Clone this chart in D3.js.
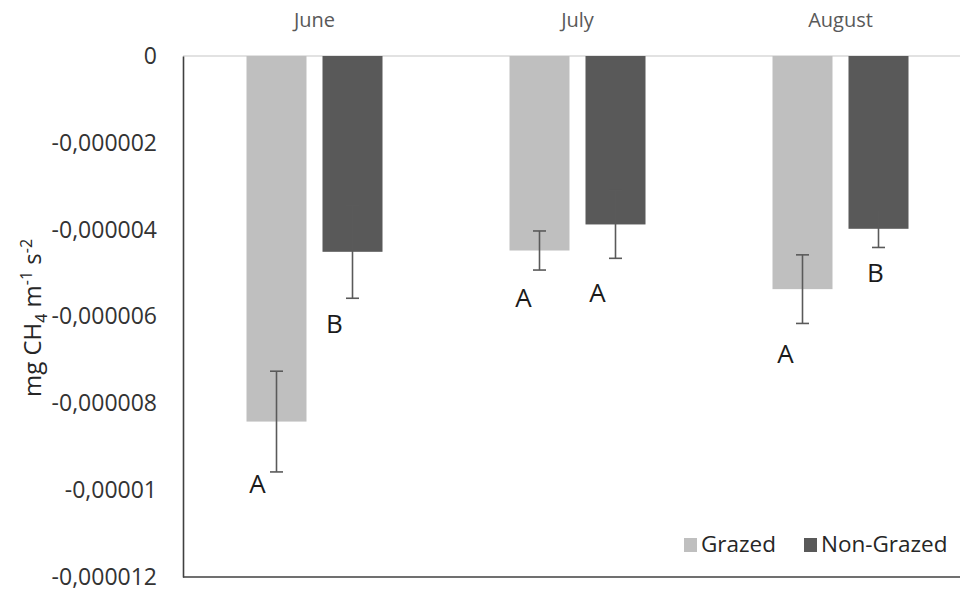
<!DOCTYPE html>
<html>
<head>
<meta charset="utf-8">
<script src="https://cdn.jsdelivr.net/npm/d3@7/dist/d3.min.js"></script>
<style>
  html, body { margin: 0; padding: 0; background: #fff; }
  svg { display: block; font-family: "Open Sans", "Noto Sans", sans-serif; }
</style>
</head>
<body>
<svg id="chart" width="960" height="593"></svg>
<script>
// Monthly CH4 flux, grazed vs non-grazed plots
const months = ["June", "July", "August"];
const series = ["Grazed", "Non-Grazed"];
const grazedMean = [-0.00000842, -0.00000448, -0.00000537];
const grazedErr = [0.00000116, 0.00000045, 0.00000079];
const nonGrazedMean = [-0.00000451, -0.00000388, -0.00000398];
const nonGrazedErr = [0.00000107, 0.00000078, 0.00000043];
// significance letters per month, [grazed, non-grazed]
const letters = [["A", "B"], ["A", "A"], ["A", "B"]];
const yTicks = [0, -0.000002, -0.000004, -0.000006, -0.000008, -0.00001, -0.000012];
const yTickLabels = ["0", "-0,000002", "-0,000004", "-0,000006", "-0,000008", "-0,00001", "-0,000012"];

const colors = { "Grazed": "#bfbfbf", "Non-Grazed": "#595959" };
// letter placement relative to each bar's centre and the foot of its error bar (px)
const letterOffsets = [
  [[-19, 21], [-18, 35]],
  [[-16, 37], [-18, 44]],
  [[-17, 40], [-3, 35]]
];

const svg = d3.select("#chart");
const plot = { left: 183, right: 972, top: 56, bottom: 577 };

const y = d3.scaleLinear().domain([0, -0.000012]).range([plot.top, plot.bottom]);
const x = d3.scaleBand().domain(months).range([plot.left, plot.right]).padding(0);
const xs = d3.scaleBand().domain(series).range([0, x.bandwidth()])
  .paddingInner(0.2105).paddingOuter(0.8355);

const rows = [];
months.forEach((m, i) => {
  rows.push({ month: m, s: "Grazed", v: grazedMean[i], e: grazedErr[i], letter: letters[i][0], off: letterOffsets[i][0] });
  rows.push({ month: m, s: "Non-Grazed", v: nonGrazedMean[i], e: nonGrazedErr[i], letter: letters[i][1], off: letterOffsets[i][1] });
});

// zero line
svg.append("line")
  .attr("x1", plot.left).attr("x2", 960)
  .attr("y1", y(0)).attr("y2", y(0))
  .attr("stroke", "#d9d9d9").attr("stroke-width", 1.5);

// bars
svg.append("g").selectAll("rect").data(rows).join("rect")
  .attr("x", d => x(d.month) + xs(d.s))
  .attr("width", xs.bandwidth())
  .attr("y", y(0))
  .attr("height", d => y(d.v) - y(0))
  .attr("fill", d => colors[d.s]);

// error bars
const eb = svg.append("g").attr("stroke", "#5a5a5a").attr("stroke-width", 1.6);
rows.forEach(d => {
  const cx = x(d.month) + xs(d.s) + xs.bandwidth() / 2;
  const y1 = y(d.v + d.e), y2 = y(d.v - d.e);
  eb.append("line").attr("x1", cx).attr("x2", cx).attr("y1", y1).attr("y2", y2);
  eb.append("line").attr("x1", cx - 6.5).attr("x2", cx + 6.5).attr("y1", y1).attr("y2", y1);
  eb.append("line").attr("x1", cx - 6.5).attr("x2", cx + 6.5).attr("y1", y2).attr("y2", y2);
});

// significance letters
svg.append("g").selectAll("text").data(rows).join("text")
  .attr("x", d => x(d.month) + xs(d.s) + xs.bandwidth() / 2 + d.off[0])
  .attr("y", d => y(d.v - d.e) + d.off[1])
  .attr("text-anchor", "middle")
  .attr("font-size", 26)
  .attr("fill", "#1a1a1a")
  .text(d => d.letter);

// y axis
const yAxis = d3.axisLeft(y).tickValues(yTicks)
  .tickFormat((d, i) => yTickLabels[i]).tickSize(0).tickPadding(26);
const gy = svg.append("g").attr("transform", `translate(${plot.left},0)`).call(yAxis);
gy.select(".domain").attr("stroke", "#404040").attr("stroke-width", 1.6);
gy.selectAll("text").attr("font-size", 23).attr("fill", "#333333")
  .attr("font-family", "'Open Sans', sans-serif");

// bottom line
svg.append("line")
  .attr("x1", plot.left).attr("x2", 960)
  .attr("y1", y(-0.000012)).attr("y2", y(-0.000012))
  .attr("stroke", "#404040").attr("stroke-width", 1.6);

// month labels along the top
const xAxis = d3.axisTop(x).tickSize(0).tickPadding(0);
const gx = svg.append("g").attr("transform", "translate(0,27)").call(xAxis);
gx.select(".domain").remove();
gx.selectAll("text").attr("font-size", 20).attr("fill", "#595959")
  .attr("font-family", "'Open Sans', sans-serif").attr("dy", 0);

// y axis title
const title = svg.append("text")
  .attr("transform", "translate(41,318) rotate(-90)")
  .attr("text-anchor", "middle")
  .attr("font-size", 24)
  .attr("fill", "#262626");
title.append("tspan").text("mg CH");
title.append("tspan").attr("font-size", 16).attr("dy", 6).text("4");
title.append("tspan").attr("dy", -6).text(" m");
title.append("tspan").attr("font-size", 16).attr("dy", -9).text("-1");
title.append("tspan").attr("dy", 9).text(" s");
title.append("tspan").attr("font-size", 16).attr("dy", -9).text("-2");

// legend
const legend = svg.append("g").attr("transform", "translate(684,538)");
const legendX = [0, 120];
series.forEach((s, i) => {
  const g = legend.append("g").attr("transform", `translate(${legendX[i]},0)`);
  g.append("rect").attr("width", 13).attr("height", 14).attr("fill", colors[s]);
  g.append("text").attr("x", 17).attr("y", 14).attr("font-size", 22.5)
    .attr("fill", "#262626").text(s);
});
</script>
</body>
</html>
